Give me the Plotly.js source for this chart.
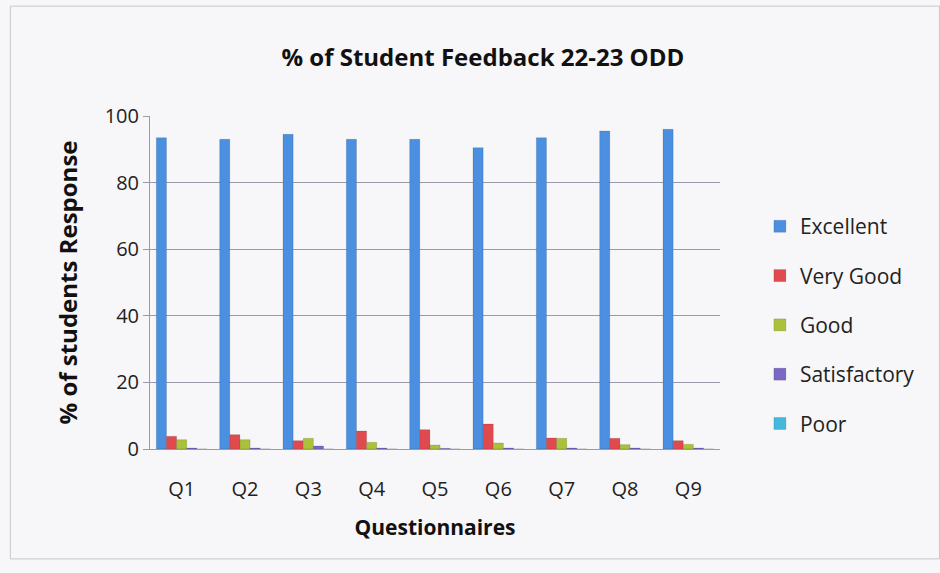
<!DOCTYPE html>
<html><head><meta charset="utf-8">
<script src="https://cdn.plot.ly/plotly-3.0.1.min.js"></script>
<style>html,body{margin:0;padding:0;background:#f7f6f8;}#chart{width:940px;height:573px;}</style>
</head><body><div id="chart"></div>
<script>
const categories = ["Q1","Q2","Q3","Q4","Q5","Q6","Q7","Q8","Q9"];
const excellent    = [93.5, 93, 94.5, 93, 93, 90.5, 93.5, 95.5, 96];
const veryGood     = [3.8, 4.3, 2.5, 5.4, 5.8, 7.5, 3.3, 3.2, 2.5];
const good         = [2.8, 2.8, 3.2, 2.0, 1.2, 1.8, 3.2, 1.3, 1.4];
const satisfactory = [0.3, 0.3, 0.9, 0.3, 0.2, 0.3, 0.3, 0.3, 0.3];
const poor         = [0, 0, 0, 0, 0, 0, 0, 0, 0];
const seriesNames = ["Excellent","Very Good","Good","Satisfactory","Poor"];
const seriesData = [excellent, veryGood, good, satisfactory, poor];
const colors = ["#4a8fe0","#e04a4f","#a9c23a","#7a68c4","#45b8dd"];
const font = "'Open Sans', 'Noto Sans', sans-serif";
const traces = seriesData.map((d,i)=>({
  type:"bar", x:categories, y:d, name:seriesNames[i], legendgroup:"g"+i,
  marker:{color:colors[i], line:{color:"rgba(0,0,0,0.25)", width:0.5}}
}));
const layout = {
  width:940, height:573,
  paper_bgcolor:"#f7f6f8", plot_bgcolor:"#f7f6f8",
  margin:{l:150, r:220, t:116, b:124},
  barmode:"group", bargap:0.2, bargroupgap:0,
  title:{text:"<b>% of Student Feedback 22-23 ODD</b>", x:0.584, xanchor:"center", xref:"paper", y:0.9, yanchor:"middle", font:{family:font, size:24, color:"#111"}},
  xaxis:{tickfont:{family:font, size:20, color:"#222"}, showline:true, linecolor:"#9a9aa8", ticks:"outside", ticklen:22, tickcolor:"rgba(0,0,0,0)",
    title:{text:"<b>Questionnaires</b>", font:{family:font, size:21, color:"#111"}, standoff:19}},
  yaxis:{range:[0,100], dtick:20, tickfont:{family:font, size:20, color:"#222"}, showline:true, linecolor:"#9a9aa8",
    gridcolor:"#9a9aa8", gridwidth:1, zeroline:false, ticks:"outside", ticklen:6, tickcolor:"#9a9aa8",
    title:{text:"<b>% of students Response</b>", font:{family:font, size:24, color:"#111"}, standoff:20}},
  legend:{x:1.07, xanchor:"left", y:0.372, yanchor:"middle", font:{family:font, size:21, color:"#222"},
    traceorder:"grouped", tracegroupgap:19, bgcolor:"rgba(0,0,0,0)"},
  shapes:[{type:"rect", xref:"paper", yref:"paper", x0:-0.245, x1:1.385, y0:-0.33, y1:1.33, line:{color:"#c8c8c8", width:1}}]
};
Plotly.newPlot("chart", traces, layout, {displayModeBar:false});
</script></body></html>
